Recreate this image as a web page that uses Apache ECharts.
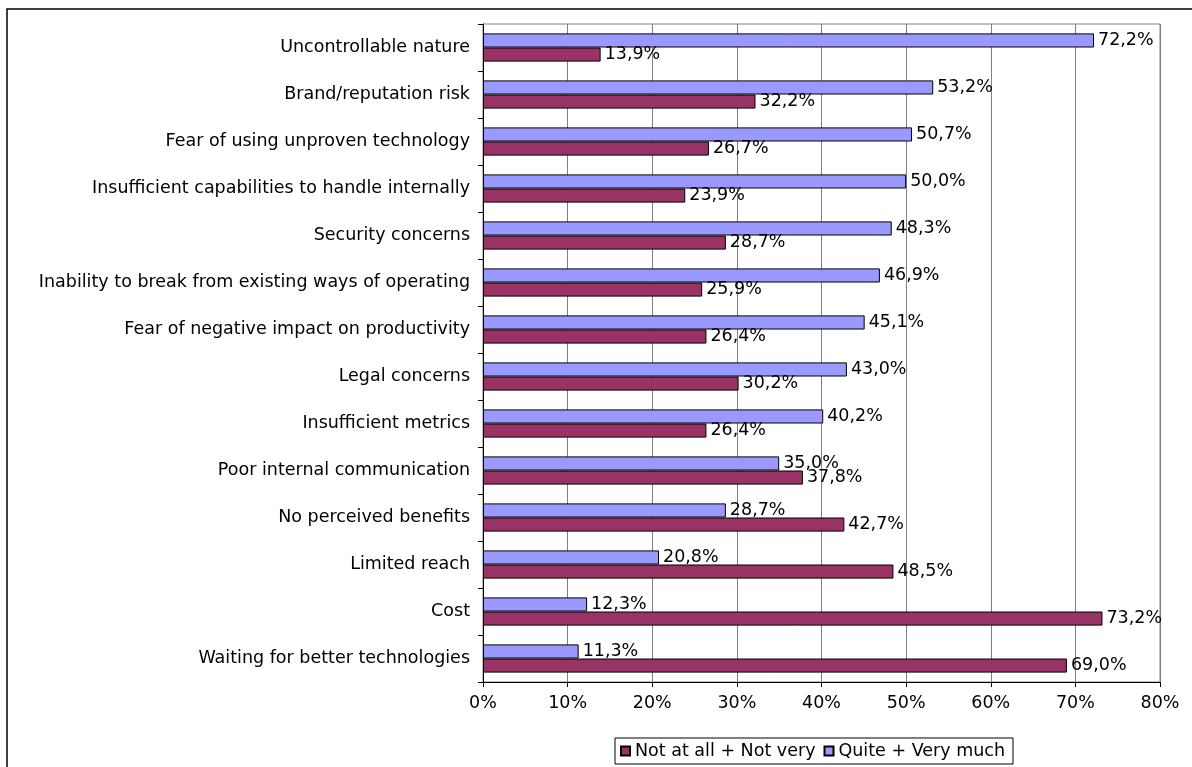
<!DOCTYPE html>
<html>
<head>
<meta charset="utf-8">
<script src="https://cdn.jsdelivr.net/npm/echarts@6/dist/echarts.min.js"></script>
<style>
  html, body { margin: 0; padding: 0; background: #fff; }
  #chart { width: 1192px; height: 767px; }
</style>
</head>
<body>
<div id="chart"></div>
<script>
// Barriers, top to bottom
const categories = [
  'Uncontrollable nature',
  'Brand/reputation risk',
  'Fear of using unproven technology',
  'Insufficient capabilities to handle internally',
  'Security concerns',
  'Inability to break from existing ways of operating',
  'Fear of negative impact on productivity',
  'Legal concerns',
  'Insufficient metrics',
  'Poor internal communication',
  'No perceived benefits',
  'Limited reach',
  'Cost',
  'Waiting for better technologies'
];

// Share of respondents (%)
const quiteVeryMuch = [72.2, 53.2, 50.7, 50.0, 48.3, 46.9, 45.1, 43.0, 40.2, 35.0, 28.7, 20.8, 12.3, 11.3];
const notAtAllNotVery = [13.9, 32.2, 26.7, 23.9, 28.7, 25.9, 26.4, 30.2, 26.4, 37.8, 42.7, 48.5, 73.2, 69.0];

const xTicks = [0, 10, 20, 30, 40, 50, 60, 70, 80];

const FONT = 'DejaVu Sans';
const FS = 17.5;
const fmt = v => v.toFixed(1).replace('.', ',') + '%';

const chart = echarts.init(document.getElementById('chart'), null, { renderer: 'canvas' });

const labelStyle = {
  show: true,
  position: 'right',
  distance: 4,
  color: '#000',
  fontFamily: FONT,
  fontSize: FS,
  formatter: p => fmt(p.value)
};

chart.setOption({
  animation: false,
  backgroundColor: '#fff',
  graphic: [{
    type: 'rect',
    shape: { x: 7, y: 9, width: 1300, height: 900 },
    style: { fill: 'none', stroke: '#000', lineWidth: 1.5 },
    silent: true
  }],
  grid: {
    left: 483, right: 32, top: 24, bottom: 85,
    show: true, borderColor: '#808080', borderWidth: 1,
    containLabel: false
  },
  legend: {
    bottom: 3,
    left: 615,
    data: ['Not at all + Not very', 'Quite + Very much'],
    icon: 'rect',
    itemWidth: 9,
    itemHeight: 9,
    itemGap: 8,
    padding: [4, 8, 4, 5],
    borderColor: '#000',
    borderWidth: 1,
    textStyle: { fontFamily: FONT, fontSize: FS, color: '#000' }
  },
  xAxis: {
    type: 'value',
    min: 0, max: 80, interval: 10,
    axisLine: { show: true, lineStyle: { color: '#000', width: 1 } },
    axisTick: { show: true, length: 5, lineStyle: { color: '#000' } },
    axisLabel: {
      fontFamily: FONT, fontSize: FS, color: '#000', margin: 12,
      formatter: v => xTicks.includes(v) ? v + '%' : ''
    },
    splitLine: { show: true, lineStyle: { color: '#808080', width: 1 } }
  },
  yAxis: {
    type: 'category',
    data: categories,
    inverse: true,
    axisLine: { show: true, lineStyle: { color: '#000', width: 1 } },
    axisTick: { show: true, length: 5, lineStyle: { color: '#000' } },
    axisLabel: { fontFamily: FONT, fontSize: FS, color: '#000', margin: 13 },
    splitLine: { show: false }
  },
  series: [
    {
      name: 'Quite + Very much',
      type: 'bar',
      data: quiteVeryMuch,
      barGap: '0%',
      barCategoryGap: '40%',
      itemStyle: { color: '#9999FF', borderColor: '#000', borderWidth: 1 },
      label: labelStyle
    },
    {
      name: 'Not at all + Not very',
      type: 'bar',
      data: notAtAllNotVery,
      barGap: '0%',
      barCategoryGap: '40%',
      itemStyle: { color: '#993366', borderColor: '#000', borderWidth: 1 },
      label: labelStyle
    }
  ]
});
</script>
</body>
</html>
